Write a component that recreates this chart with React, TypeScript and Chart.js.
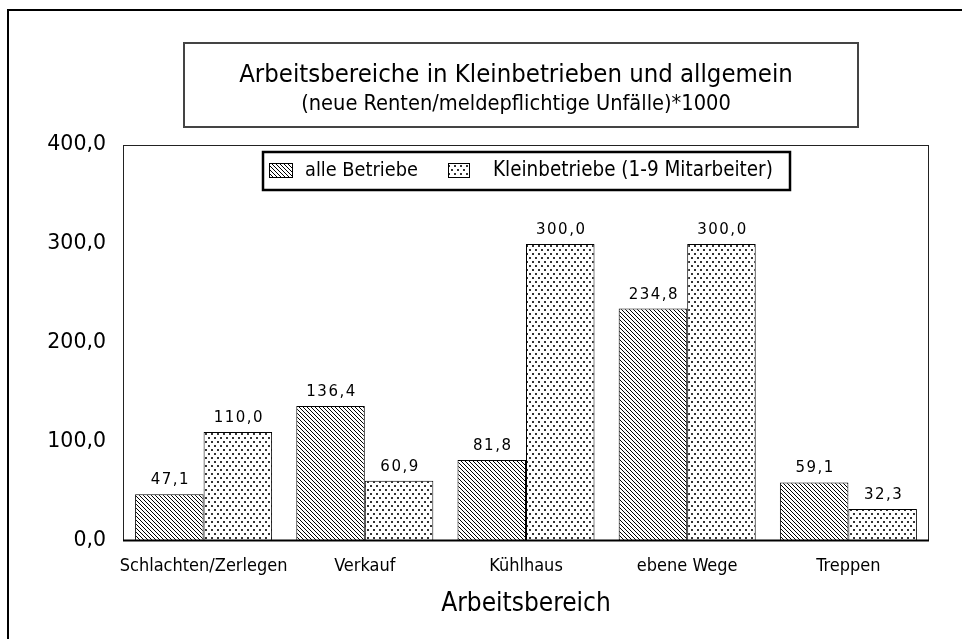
import React, { useEffect, useRef } from "react";
import { Chart, registerables } from "chart.js";

Chart.register(...registerables);

const categories = ["Schlachten/Zerlegen", "Verkauf", "Kühlhaus", "ebene Wege", "Treppen"];
const alleBetriebe = [47.1, 136.4, 81.8, 234.8, 59.1];
const kleinbetriebe = [110.0, 60.9, 300.0, 300.0, 32.3];
const seriesLabels = ["alle Betriebe", "Kleinbetriebe (1-9 Mitarbeiter)"];
const yMin = 0;
const yMax = 400;
const yStep = 100;
const titleText = "Arbeitsbereiche in Kleinbetrieben und allgemein";
const subtitleText = "(neue Renten/meldepflichtige Unfälle)*1000";
const xAxisTitle = "Arbeitsbereich";

const NARROW = "'DejaVu Sans Condensed', 'Liberation Sans Narrow', sans-serif";
const ROUND = "'DejaVu Sans', sans-serif";

const fmt = (v: number) => v.toFixed(1).replace(".", ",");

function makeHatch(): CanvasPattern | string {
  const c = document.createElement("canvas");
  c.width = 4;
  c.height = 4;
  const g = c.getContext("2d");
  if (!g) return "#888";
  g.fillStyle = "#fff";
  g.fillRect(0, 0, 4, 4);
  g.strokeStyle = "#000";
  g.lineWidth = 1;
  g.beginPath();
  g.moveTo(-1, -1);
  g.lineTo(5, 5);
  g.moveTo(-1, 3);
  g.lineTo(1, 5);
  g.moveTo(3, -1);
  g.lineTo(5, 1);
  g.stroke();
  return g.createPattern(c, "repeat") || "#888";
}

function makeDots(): CanvasPattern | string {
  const c = document.createElement("canvas");
  c.width = 6;
  c.height = 8;
  const g = c.getContext("2d");
  if (!g) return "#eee";
  g.fillStyle = "#fff";
  g.fillRect(0, 0, 6, 8);
  g.fillStyle = "#333";
  g.fillRect(1, 1, 2, 2);
  g.fillRect(4, 5, 2, 2);
  return g.createPattern(c, "repeat") || "#eee";
}

function fitText(ctx: CanvasRenderingContext2D, text: string, family: string, width: number) {
  ctx.font = `100px ${family}`;
  const w = ctx.measureText(text).width;
  const size = (100 * width) / w;
  ctx.font = `${size}px ${family}`;
}

export default function App() {
  const ref = useRef<HTMLCanvasElement | null>(null);

  useEffect(() => {
    document.body.style.margin = "0";
    const canvas = ref.current;
    if (!canvas) return;
    const hatch = makeHatch();
    const dots = makeDots();

    const decor = {
      id: "decor",
      beforeDraw(chart: any) {
        const ctx = chart.ctx as CanvasRenderingContext2D;
        ctx.save();
        ctx.fillStyle = "#fff";
        ctx.fillRect(0, 0, chart.width, chart.height);
        ctx.restore();
      },
      afterDatasetsDraw(chart: any) {
        const ctx = chart.ctx as CanvasRenderingContext2D;
        ctx.save();
        ctx.fillStyle = "#000";
        ctx.textAlign = "center";
        ctx.textBaseline = "alphabetic";
        ctx.font = `15px ${ROUND}`;
        (ctx as any).letterSpacing = "1.5px";
        chart.data.datasets.forEach((ds: any, di: number) => {
          const meta = chart.getDatasetMeta(di);
          meta.data.forEach((bar: any, i: number) => {
            ctx.fillText(fmt(ds.data[i]), bar.x + 1, bar.y - 10);
          });
        });
        ctx.restore();
      },
      afterDraw(chart: any) {
        const ctx = chart.ctx as CanvasRenderingContext2D;
        const ca = chart.chartArea;
        ctx.save();
        // outer frame
        ctx.fillStyle = "#000";
        ctx.fillRect(7, 9, 2, chart.height - 9);
        ctx.fillRect(7, 9, chart.width - 7, 2);
        // plot frame
        ctx.strokeStyle = "#222";
        ctx.lineWidth = 1;
        ctx.strokeRect(ca.left + 0.5, ca.top + 0.5, ca.right - ca.left - 1, ca.bottom - ca.top - 1);
        ctx.fillStyle = "#000";
        ctx.fillRect(ca.left, ca.bottom - 1.5, ca.right - ca.left, 2);

        // title box
        ctx.strokeStyle = "#444";
        ctx.lineWidth = 2;
        ctx.strokeRect(184, 43, 674, 84);
        ctx.fillStyle = "#000";
        ctx.textAlign = "center";
        ctx.textBaseline = "middle";
        fitText(ctx, titleText, NARROW, 554);
        ctx.fillText(titleText, 516, 75);
        fitText(ctx, subtitleText, NARROW, 430);
        ctx.fillText(subtitleText, 516, 104);

        // legend
        ctx.strokeStyle = "#000";
        ctx.lineWidth = 2.5;
        ctx.strokeRect(263, 152, 527, 38);
        const swatches = [
          { x: 269, w: 24, tx: 305, tw: 113, fill: hatch },
          { x: 448, w: 22, tx: 493, tw: 280, fill: dots },
        ];
        swatches.forEach((s, i) => {
          ctx.fillStyle = s.fill as any;
          ctx.fillRect(s.x, 163, s.w, 15);
          ctx.lineWidth = 1;
          ctx.strokeStyle = "#000";
          ctx.strokeRect(s.x + 0.5, 163.5, s.w - 1, 14);
          ctx.fillStyle = "#000";
          ctx.textAlign = "left";
          fitText(ctx, seriesLabels[i], NARROW, s.tw);
          ctx.fillText(seriesLabels[i], s.tx, 171);
        });
        ctx.restore();
      },
    };

    const chart = new Chart(canvas, {
      type: "bar",
      data: {
        labels: categories,
        datasets: [
          {
            label: seriesLabels[0],
            data: alleBetriebe,
            backgroundColor: hatch as any,
            borderColor: "#000",
            borderWidth: 1,
            barPercentage: 1,
            categoryPercentage: 0.85,
          },
          {
            label: seriesLabels[1],
            data: kleinbetriebe,
            backgroundColor: dots as any,
            borderColor: "#000",
            borderWidth: 1,
            barPercentage: 1,
            categoryPercentage: 0.85,
          },
        ],
      },
      options: {
        responsive: false,
        animation: false,
        layout: { padding: { left: 0, right: 33, top: 145, bottom: 0 } },
        plugins: {
          legend: { display: false },
          title: { display: false },
          tooltip: { enabled: false },
        },
        scales: {
          x: {
            grid: { display: false, drawTicks: false },
            border: { display: false },
            ticks: { font: { family: NARROW, size: 18 }, color: "#000", padding: 15, maxRotation: 0, autoSkip: false },
            title: {
              display: true,
              text: xAxisTitle,
              font: { family: NARROW, size: 26 },
              color: "#000",
              padding: { top: 0, bottom: 19 },
            },
            afterFit: (s: any) => {
              s.height = 98;
            },
          },
          y: {
            min: yMin,
            max: yMax,
            grid: { display: false, drawTicks: false },
            border: { display: false },
            ticks: {
              stepSize: yStep,
              callback: (v: any) => fmt(Number(v)),
              font: { family: ROUND, size: 20.5 },
              color: "#000",
              padding: 17,
            },
            afterFit: (s: any) => {
              s.width = 123;
            },
          },
        },
      },
      plugins: [decor],
    });

    return () => chart.destroy();
  }, []);

  return <canvas ref={ref} width={962} height={639} style={{ display: "block" }} />;
}
